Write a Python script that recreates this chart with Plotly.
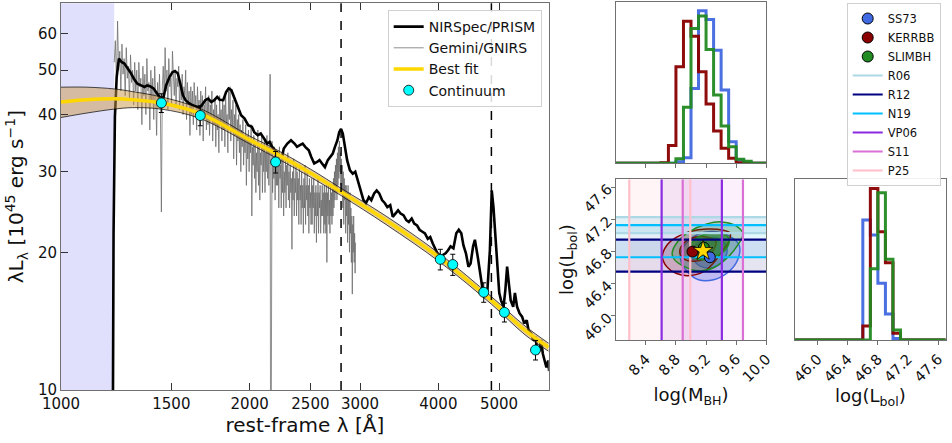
import math
import plotly.graph_objects as go

FONT = "DejaVu Sans"

# ---------------- spectrum panel ----------------
# NIRSpec/PRISM spectrum: rest-frame wavelength [A], lambda*L_lambda [1e45 erg/s]
prism_wave = [1200, 1210, 1213, 1219, 1227, 1237, 1249, 1262, 1273, 1290, 1307, 1324, 1342, 1359,
              1372, 1387, 1405, 1424, 1442, 1458, 1471, 1490, 1506, 1520, 1536, 1550, 1565, 1580,
              1602, 1623, 1644, 1662, 1677, 1699, 1717, 1737, 1756, 1775, 1791, 1815, 1834, 1851,
              1870, 1888, 1905, 1920, 1938, 1963, 1989, 2016, 2034, 2061, 2083, 2110, 2133, 2152,
              2172, 2194, 2217, 2238, 2252, 2267, 2297, 2328, 2358, 2380, 2405, 2430, 2453, 2485,
              2508, 2535, 2562, 2585, 2609, 2637, 2665, 2689, 2714, 2736, 2761, 2779, 2798, 2816,
              2835, 2861, 2891, 2921, 2948, 2975, 3007, 3038, 3066, 3099, 3127, 3160, 3189, 3219,
              3253, 3287, 3317, 3352, 3383, 3419, 3450, 3482, 3519, 3556, 3589, 3627, 3661, 3699,
              3733, 3768, 3808, 3848, 3883, 3919, 3950, 3986, 4023, 4065, 4108, 4146, 4184, 4228,
              4273, 4312, 4352, 4387, 4427, 4468, 4503, 4545, 4575, 4623, 4666, 4709, 4746, 4790,
              4834, 4867, 4898, 4937, 4970, 5003, 5036, 5082, 5116, 5150, 5183, 5218, 5266, 5300,
              5342, 5392, 5441, 5484, 5535, 5572, 5623, 5668, 5720, 5758, 5796, 5834, 5872, 5911,
              5950, 5989, 6010]
prism_lum = [3.0, 9.0, 22.0, 39.5, 48.3, 53.0, 52.1, 51.7, 50.8, 49.5, 47.9, 46.7, 46.3, 45.95,
             46.3, 46.1, 45.6, 44.4, 43.35, 43.7, 46.3, 48.3, 49.5, 49.8, 49.2, 46.7, 44.1, 43.0,
             42.3, 41.9, 41.7, 41.4, 41.9, 43.0, 43.35, 42.6, 43.0, 43.7, 43.1, 43.0, 44.8, 45.6,
             45.2, 43.7, 42.3, 41.56, 39.85, 39.2, 37.9, 37.6, 36.6, 36.05, 36.35, 35.4, 34.56, 34.85,
             34.0, 33.4, 32.86, 32.4, 32.3, 33.7, 34.56, 35.15, 34.56, 34.0, 34.3, 34.56, 34.0, 33.4,
             32.3, 31.26, 31.5, 31.8, 31.26, 30.7, 31.8, 32.3, 32.86, 34.0, 35.15, 36.6, 37.2, 36.35,
             34.56, 31.8, 30.2, 29.7, 30.0, 28.7, 27.3, 26.0, 25.6, 26.4, 26.0, 26.9, 27.3, 26.9,
             26.0, 25.6, 25.1, 25.35, 23.9, 24.3, 24.7, 24.3, 24.1, 23.5, 23.3, 23.7, 23.1, 22.9,
             22.4, 22.2, 22.0, 21.4, 21.6, 20.9, 20.4, 19.9, 19.55, 19.7, 19.9, 20.2, 20.6, 20.4,
             22.0, 22.4, 22.0, 20.7, 19.9, 18.6, 18.9, 20.6, 21.3, 19.55, 17.7, 16.5, 16.3, 16.5,
             20.2, 27.3, 25.1, 21.3, 19.2, 16.3, 15.7, 15.2, 16.5, 18.6, 17.1, 15.7, 15.2, 16.3,
             15.2, 14.7, 14.46, 13.98, 14.2, 13.5, 13.3, 12.86, 13.07, 12.0, 12.2, 12.86, 12.0, 11.6,
             11.2, 11.6, 11.0]

# Gemini/GNIRS spectrum (5 A sampling, 1216-2951 A)
gnirs_wave = [
    1216, 1221, 1226, 1231, 1236, 1241, 1246, 1251, 1256, 1261, 1266, 1271, 1276, 1281, 1286, 1291, 1296, 1301, 1306, 1311,
    1316, 1321, 1326, 1331, 1336, 1341, 1346, 1351, 1356, 1361, 1366, 1371, 1376, 1381, 1386, 1391, 1396, 1401, 1406, 1411,
    1416, 1421, 1426, 1431, 1436, 1441, 1446, 1451, 1456, 1461, 1466, 1471, 1476, 1481, 1486, 1491, 1496, 1501, 1506, 1511,
    1516, 1521, 1526, 1531, 1536, 1541, 1546, 1551, 1556, 1561, 1566, 1571, 1576, 1581, 1586, 1591, 1596, 1601, 1606, 1611,
    1616, 1621, 1626, 1631, 1636, 1641, 1646, 1651, 1656, 1661, 1666, 1671, 1676, 1681, 1686, 1691, 1696, 1701, 1706, 1711,
    1716, 1721, 1726, 1731, 1736, 1741, 1746, 1751, 1756, 1761, 1766, 1771, 1776, 1781, 1786, 1791, 1796, 1801, 1806, 1811,
    1816, 1821, 1826, 1831, 1836, 1841, 1846, 1851, 1856, 1861, 1866, 1871, 1876, 1881, 1886, 1891, 1896, 1901, 1906, 1911,
    1916, 1921, 1926, 1931, 1936, 1941, 1946, 1951, 1956, 1961, 1966, 1971, 1976, 1981, 1986, 1991, 1996, 2001, 2006, 2011,
    2016, 2021, 2026, 2031, 2036, 2041, 2046, 2051, 2056, 2061, 2066, 2071, 2076, 2081, 2086, 2091, 2096, 2101, 2106, 2111,
    2116, 2121, 2126, 2131, 2136, 2141, 2146, 2151, 2156, 2161, 2166, 2171, 2176, 2181, 2186, 2191, 2196, 2201, 2206, 2211,
    2216, 2221, 2226, 2231, 2236, 2241, 2246, 2251, 2256, 2261, 2266, 2271, 2276, 2281, 2286, 2291, 2296, 2301, 2306, 2311,
    2316, 2321, 2326, 2331, 2336, 2341, 2346, 2351, 2356, 2361, 2366, 2371, 2376, 2381, 2386, 2391, 2396, 2401, 2406, 2411,
    2416, 2421, 2426, 2431, 2436, 2441, 2446, 2451, 2456, 2461, 2466, 2471, 2476, 2481, 2486, 2491, 2496, 2501, 2506, 2511,
    2516, 2521, 2526, 2531, 2536, 2541, 2546, 2551, 2556, 2561, 2566, 2571, 2576, 2581, 2586, 2591, 2596, 2601, 2606, 2611,
    2616, 2621, 2626, 2631, 2636, 2641, 2646, 2651, 2656, 2661, 2666, 2671, 2676, 2681, 2686, 2691, 2696, 2701, 2706, 2711,
    2716, 2721, 2726, 2731, 2736, 2741, 2746, 2751, 2756, 2761, 2766, 2771, 2776, 2781, 2786, 2791, 2796, 2801, 2806, 2811,
    2816, 2821, 2826, 2831, 2836, 2841, 2846, 2851, 2856, 2861, 2866, 2871, 2876, 2881, 2886, 2891, 2896, 2901, 2906, 2911,
    2916, 2921, 2926, 2931, 2936, 2941, 2946, 2951,
]
gnirs_lum = [
    52, 58, 47, 64, 50, 55, 45, 57, 49, 53, 44, 56, 48, 51, 43, 54, 47, 50, 42, 52,
    45, 50, 41, 52, 46, 48, 38, 51, 44, 49, 40, 53, 45, 47, 37, 50, 43, 48, 39, 51,
    44, 36, 47, 42, 49, 40, 24.5, 46, 51, 43, 56, 45, 50, 41, 53, 46, 48, 42, 55, 47,
    44, 50, 42, 48, 46, 51, 41, 47, 43, 49, 40, 46, 44, 50, 39, 47, 42, 45, 36, 46,
    40, 45, 38, 47, 42, 44, 37, 46, 41, 43, 36, 45, 39, 44, 35, 42, 40, 46, 37, 43,
    38, 44, 36, 42, 39, 45, 35, 41, 38, 43, 34, 42, 37, 40, 33, 44, 38, 41, 35, 43,
    37, 42, 34, 44, 38, 40, 33, 45, 39, 46, 35, 41, 37, 43, 32, 40, 36, 42, 31, 39,
    35, 40, 33, 38, 30, 37, 34, 39, 31, 36, 33, 38, 28, 36, 32, 37, 30, 35, 33, 38,
    24, 34, 31, 36, 29, 35, 27, 33, 30, 37, 28, 34, 26, 33, 31, 36, 27, 34, 30, 35,
    27, 33, 30, 36, 29, 34, 28, 33, 49, 3, 31, 35, 27, 32, 29, 34, 26, 33, 28, 31,
    28, 33, 25, 34, 29, 31, 25, 32, 27, 33, 24, 30, 27, 32, 25, 31, 28, 33, 26, 30,
    25, 31, 27, 29, 20.3, 30, 26, 32, 24, 29, 27, 31, 24, 30, 26, 29, 23, 31, 26, 28,
    23, 30, 25, 28, 22, 29, 25, 31, 23, 28, 26, 30, 24, 28, 22, 29, 25, 27, 23, 29,
    23, 28, 25, 29, 22, 27, 24, 28, 21, 27, 24, 29, 22, 27, 25, 28, 22, 26, 24, 28,
    24, 27, 22, 28, 23, 27, 22, 28, 19, 27, 24, 28, 23, 26, 22, 28, 24, 27, 23, 28,
    24, 29, 25, 30, 26, 31, 27, 32, 26, 33, 28, 34, 29, 35, 30, 33, 28, 32, 27, 31,
    25, 30, 23, 29, 26, 28, 22, 28, 24, 27, 21, 28, 23, 26, 20, 27, 22, 25, 19, 24,
    16.2, 23, 20, 24, 19, 22, 18, 21,
]

# Continuum model: best fit and its uncertainty envelope
fit_wave = [1000, 1100, 1216, 1300, 1446, 1668, 2000, 2200, 2500, 2798, 3300, 4029, 4861, 5500, 6000]
fit_lum = [42.6, 43.1, 43.3, 43.1, 42.4, 40.2, 35.2, 32.9, 29.8, 27.1, 23.5, 19.4, 15.7, 13.5, 12.4]
fit_hi = [45.9, 45.9, 45.5, 44.9, 43.7, 41.2, 35.9, 33.6, 30.4, 27.6, 24.0, 19.8, 16.0, 13.8, 12.65]
fit_lo = [39.4, 40.3, 41.1, 41.4, 41.1, 39.2, 34.5, 32.2, 29.2, 26.6, 23.0, 19.0, 15.4, 13.2, 12.15]

# Continuum windows
cont_wave = [1446, 1668, 2200, 4029, 4218, 4726, 5099, 5716]
cont_lum = [42.4, 39.8, 31.5, 19.3, 18.8, 16.35, 14.78, 12.23]
cont_err = [2.0, 2.0, 1.7, 1.0, 1.0, 0.8, 0.7, 0.6]

# Mg II and H-beta line centres, and the region blueward of Ly-alpha
line_wave = [2798, 4861]
lya_span = [1000, 1216]

wave_ticks = [1000, 1500, 2000, 2500, 3000, 4000, 5000]
lum_ticks = [10, 20, 30, 40, 50, 60]

# ---------------- corner plot ----------------
models = ["SS73", "KERRBB", "SLIMBH"]
model_colors = ["royalblue", "darkred", "forestgreen"]
model_mbh = [9.25, 9.02, 9.17]
model_lbol = [46.73, 46.80, 46.85]
best_mbh = [9.16]
best_lbol = [46.81]

mbh_edges = [8.0, 8.1, 8.2, 8.3, 8.4, 8.5, 8.6, 8.7, 8.8, 8.9, 9.0,
             9.1, 9.2, 9.3, 9.4, 9.5, 9.6, 9.7, 9.8, 9.9, 10.0]
mbh_hist = {
    "SS73":   [0, 0, 0, 0, 0, 0, 0, 0, 0.01, 0.037, 0.49, 1.0, 0.943, 0.742, 0.48, 0.142, 0.022, 0.004, 0, 0],
    "KERRBB": [0, 0, 0, 0, 0, 0, 0.004, 0.116, 0.633, 0.932, 0.834, 0.60, 0.389, 0.212, 0.098, 0.033, 0.004, 0, 0, 0],
    "SLIMBH": [0, 0, 0, 0, 0, 0, 0, 0, 0.03, 0.367, 0.884, 0.967, 0.747, 0.448, 0.245, 0.109, 0.026, 0.013, 0, 0],
}
lbol_edges = [45.7, 45.8, 45.9, 46.0, 46.1, 46.2, 46.3, 46.4, 46.5, 46.6, 46.7,
              46.8, 46.9, 47.0, 47.1, 47.2, 47.3, 47.4, 47.5, 47.6, 47.7]
lbol_hist = {
    "SS73":   [0, 0, 0, 0, 0, 0, 0, 0, 0, 0.791, 0.692, 0.374, 0.171, 0.01, 0, 0, 0, 0, 0, 0],
    "KERRBB": [0, 0, 0, 0, 0, 0, 0, 0, 0, 0.092, 1.0, 0.714, 0.51, 0.044, 0, 0, 0, 0, 0, 0],
    "SLIMBH": [0, 0, 0, 0, 0, 0, 0, 0, 0, 0, 0.47, 0.971, 0.532, 0.066, 0, 0, 0, 0, 0, 0],
}

# 2D credible contours (outer, inner) in (log M_BH, log L_bol)
contour_outer_m = {
    "SS73":   [8.86, 8.95, 9.10, 9.30, 9.50, 9.64, 9.62, 9.50, 9.30, 9.10, 8.95, 8.87, 8.86],
    "KERRBB": [8.62, 8.68, 8.81, 8.99, 9.21, 9.41, 9.52, 9.50, 9.41, 9.30, 9.17, 8.95, 8.80, 8.68, 8.62],
    "SLIMBH": [8.75, 8.82, 8.98, 9.20, 9.40, 9.60, 9.69, 9.62, 9.48, 9.30, 9.10, 8.90, 8.78, 8.75],
}
contour_outer_l = {
    "SS73":   [46.78, 46.92, 47.02, 47.05, 47.00, 46.88, 46.70, 46.55, 46.45, 46.45, 46.55, 46.67, 46.78],
    "KERRBB": [46.74, 46.88, 46.98, 47.05, 47.08, 47.07, 47.03, 46.92, 46.80, 46.66, 46.55, 46.50, 46.53, 46.61, 46.74],
    "SLIMBH": [46.78, 46.92, 47.05, 47.14, 47.17, 47.12, 47.02, 46.88, 46.72, 46.60, 46.56, 46.62, 46.70, 46.78],
}
contour_inner_m = {
    "SS73":   [9.00, 9.08, 9.22, 9.40, 9.48, 9.42, 9.28, 9.12, 9.03, 9.00],
    "KERRBB": [8.85, 8.92, 9.05, 9.22, 9.33, 9.30, 9.20, 9.05, 8.92, 8.85],
    "SLIMBH": [8.98, 9.05, 9.20, 9.38, 9.50, 9.48, 9.35, 9.18, 9.05, 8.98],
}
contour_inner_l = {
    "SS73":   [46.78, 46.90, 46.97, 46.95, 46.82, 46.68, 46.60, 46.62, 46.70, 46.78],
    "KERRBB": [46.80, 46.92, 46.98, 46.98, 46.93, 46.82, 46.72, 46.68, 46.70, 46.80],
    "SLIMBH": [46.82, 46.95, 47.02, 47.03, 46.97, 46.85, 46.75, 46.70, 46.72, 46.82],
}
fill_outer = {"SS73": "rgba(65,105,225,0.28)", "KERRBB": "rgba(139,0,0,0.16)", "SLIMBH": "rgba(34,139,34,0.22)"}
fill_inner = {"SS73": "rgba(65,105,225,0.45)", "KERRBB": "rgba(139,0,0,0.22)", "SLIMBH": "rgba(34,139,34,0.6)"}

# Literature estimates (ranges)
lbol_refs = ["R06", "R12", "N19"]
lbol_ref_colors = ["lightblue", "navy", "deepskyblue"]
lbol_ref_fill = ["rgba(173,216,230,0.35)", "rgba(0,0,128,0.10)", "rgba(0,191,255,0.10)"]
lbol_lo = [47.03, 46.55, 46.73]
lbol_hi = [47.23, 46.95, 47.13]

mbh_refs = ["VP06", "S11", "P25"]
mbh_ref_colors = ["blueviolet", "orchid", "pink"]
mbh_ref_fill = ["rgba(138,43,226,0.10)", "rgba(218,112,214,0.10)", "rgba(255,192,203,0.18)"]
mbh_lo = [8.61, 8.89, 8.18]
mbh_hi = [9.41, 9.69, 8.99]

corner_ticks_m = [8.4, 8.8, 9.2, 9.6, 10.0]
corner_ticks_l = [46.0, 46.4, 46.8, 47.2, 47.6]

fig = go.Figure()

# ---- spectrum panel traces ----
fig.add_trace(go.Scatter(x=gnirs_wave, y=gnirs_lum, mode="lines", name="Gemini/GNIRS",
                         line=dict(color="rgba(105,105,105,0.75)", width=1),
                         legendrank=2, xaxis="x", yaxis="y"))
fig.add_trace(go.Scatter(x=prism_wave, y=prism_lum, mode="lines", name="NIRSpec/PRISM",
                         line=dict(color="black", width=2.6), legendrank=1, xaxis="x", yaxis="y"))
fig.add_trace(go.Scatter(x=fit_wave, y=fit_hi, mode="lines", showlegend=False,
                         line=dict(color="black", width=0.7, shape="spline"), xaxis="x", yaxis="y"))
fig.add_trace(go.Scatter(x=fit_wave, y=fit_lo, mode="lines", showlegend=False, fill="tonexty",
                         fillcolor="rgba(200,150,70,0.5)",
                         line=dict(color="black", width=0.7, shape="spline"), xaxis="x", yaxis="y"))
fig.add_trace(go.Scatter(x=fit_wave, y=fit_lum, mode="lines", name="Best fit",
                         line=dict(color="gold", width=3.5, shape="spline"), legendrank=3,
                         xaxis="x", yaxis="y"))
fig.add_trace(go.Scatter(x=cont_wave, y=cont_lum, mode="markers", name="Continuum",
                         marker=dict(color="cyan", size=10, line=dict(color="black", width=0.8)),
                         error_y=dict(type="data", array=cont_err, color="black", thickness=1, width=2.5),
                         legendrank=4, xaxis="x", yaxis="y"))

shapes = [
    dict(type="rect", xref="x", yref="y domain", x0=lya_span[0], x1=lya_span[1],
         y0=0, y1=1, fillcolor="rgba(0,0,230,0.12)", line=dict(width=0), layer="below"),
]
for w in line_wave:
    shapes.append(dict(type="line", xref="x", yref="y domain", x0=w, x1=w,
                       y0=0, y1=1, line=dict(color="black", width=1.5, dash="dash")))

# ---- corner plot: literature ranges ----
for lo, hi, fc in zip(mbh_lo, mbh_hi, mbh_ref_fill):
    shapes.append(dict(type="rect", xref="x3", yref="y3 domain", x0=lo, x1=hi, y0=0, y1=1,
                       fillcolor=fc, line=dict(width=0), layer="below"))
for lo, hi, fc in zip(lbol_lo, lbol_hi, lbol_ref_fill):
    shapes.append(dict(type="rect", xref="x3 domain", yref="y3", x0=0, x1=1, y0=lo, y1=hi,
                       fillcolor=fc, line=dict(width=0), layer="below"))

# contours
for name in models:
    col = model_colors[models.index(name)]
    fig.add_trace(go.Scatter(x=contour_outer_m[name], y=contour_outer_l[name], mode="lines",
                             fill="toself", fillcolor=fill_outer[name],
                             line=dict(color=col, width=1.5, shape="spline"),
                             showlegend=False, xaxis="x3", yaxis="y3"))
    fig.add_trace(go.Scatter(x=contour_inner_m[name], y=contour_inner_l[name], mode="lines",
                             fill="toself", fillcolor=fill_inner[name],
                             line=dict(color=col, width=1.5, shape="spline"),
                             showlegend=False, xaxis="x3", yaxis="y3"))

# reference lines (legend entries)
rank = 10
for ref, col, lo, hi in zip(lbol_refs, lbol_ref_colors, lbol_lo, lbol_hi):
    fig.add_trace(go.Scatter(x=[8.0, 10.0, None, 8.0, 10.0], y=[lo, lo, None, hi, hi], mode="lines",
                             name=ref, line=dict(color=col, width=2.2), legend="legend2",
                             legendrank=rank, xaxis="x3", yaxis="y3"))
    rank += 1
for ref, col, lo, hi in zip(mbh_refs, mbh_ref_colors, mbh_lo, mbh_hi):
    fig.add_trace(go.Scatter(x=[lo, lo, None, hi, hi], y=[45.7, 47.7, None, 45.7, 47.7], mode="lines",
                             name=ref, line=dict(color=col, width=2.2), legend="legend2",
                             legendrank=rank, xaxis="x3", yaxis="y3"))
    rank += 1

# model best values
for i, name in enumerate(models):
    fig.add_trace(go.Scatter(x=[model_mbh[i]], y=[model_lbol[i]], mode="markers", name=name,
                             marker=dict(color=model_colors[i], size=11, line=dict(color="black", width=1)),
                             legend="legend2", legendrank=i + 1, xaxis="x3", yaxis="y3"))
fig.add_trace(go.Scatter(x=best_mbh, y=best_lbol, mode="markers", showlegend=False,
                         marker=dict(color="gold", symbol="star", size=15, line=dict(color="black", width=0.8)),
                         xaxis="x3", yaxis="y3"))

# marginal histograms
for i, name in enumerate(models):
    col = model_colors[i]
    fig.add_trace(go.Scatter(x=mbh_edges, y=mbh_hist[name] + [mbh_hist[name][-1]], mode="lines",
                             line=dict(color=col, width=3, shape="hv"), opacity=0.95,
                             showlegend=False, xaxis="x2", yaxis="y2"))
    fig.add_trace(go.Scatter(x=lbol_edges, y=lbol_hist[name] + [lbol_hist[name][-1]], mode="lines",
                             line=dict(color=col, width=3, shape="hv"), opacity=0.95,
                             showlegend=False, xaxis="x4", yaxis="y4"))

axis_line = "#707070"
tick_font = dict(family=FONT, size=15, color="#111")
small_tick_font = dict(family=FONT, size=14.5, color="#111")
title_font = dict(family=FONT, size=20, color="#111")
corner_title_font = dict(family=FONT, size=18, color="#111")

X_MAIN = [61 / 952, 548.7 / 952]
Y_MAIN = [(443 - 390) / 443, (443 - 3.3) / 443]
X_MID = [615.7 / 952, 766.3 / 952]
X_RIGHT = [795 / 952, 945.7 / 952]
Y_TOP = [(443 - 163.3) / 443, (443 - 1.7) / 443]
Y_LOW = [(443 - 340) / 443, (443 - 179.3) / 443]

common = dict(showgrid=False, zeroline=False, showline=True, linecolor=axis_line, linewidth=1,
              automargin=False)

fig.update_layout(
    template="none",
    width=952, height=443,
    margin=dict(l=0, r=0, t=0, b=0),
    paper_bgcolor="white", plot_bgcolor="white",
    font=dict(family=FONT, color="#111"),
    shapes=shapes,
    xaxis=dict(common, domain=X_MAIN, anchor="y", type="log",
               range=[math.log10(1000), math.log10(6000)],
               tickvals=wave_ticks, ticktext=[str(v) for v in wave_ticks],
               ticks="inside", ticklen=7, tickcolor="#333", mirror="ticks", tickfont=tick_font,
               title=dict(text="rest-frame λ [Å]", font=title_font, standoff=4)),
    yaxis=dict(common, domain=Y_MAIN, anchor="x", type="log",
               range=[math.log10(10), math.log10(70)],
               tickvals=lum_ticks, ticktext=[str(v) for v in lum_ticks],
               ticks="inside", ticklen=7, tickcolor="#333", mirror=True, tickfont=tick_font,
               title=dict(text="λL<sub>λ</sub> [10<sup>45</sup> erg s<sup>−1</sup>]", font=title_font,
                          standoff=8)),
    xaxis2=dict(common, domain=X_MID, anchor="y2", range=[8.0, 10.0], tickvals=corner_ticks_m,
                showticklabels=False, ticks="outside", ticklen=4, tickcolor=axis_line, mirror=True),
    yaxis2=dict(common, domain=Y_TOP, anchor="x2", range=[0, 1.06], showticklabels=False,
                ticks="", mirror=True),
    xaxis3=dict(common, domain=X_MID, anchor="y3", range=[8.0, 10.0], tickvals=corner_ticks_m,
                tickformat=".1f", tickangle=-45, ticks="outside", ticklen=4, tickcolor=axis_line,
                mirror=True, tickfont=small_tick_font,
                title=dict(text="log(M<sub>BH</sub>)", font=corner_title_font, standoff=4)),
    yaxis3=dict(common, domain=Y_LOW, anchor="x3", range=[45.7, 47.7], tickvals=corner_ticks_l,
                tickformat=".1f", tickangle=-45, ticks="outside", ticklen=4, tickcolor=axis_line,
                mirror=True, tickfont=small_tick_font,
                title=dict(text="log(L<sub>bol</sub>)", font=corner_title_font, standoff=2)),
    xaxis4=dict(common, domain=X_RIGHT, anchor="y4", range=[45.7, 47.7], tickvals=corner_ticks_l,
                tickformat=".1f", tickangle=-45, ticks="outside", ticklen=4, tickcolor=axis_line,
                mirror=True, tickfont=small_tick_font,
                title=dict(text="log(L<sub>bol</sub>)", font=corner_title_font, standoff=4)),
    yaxis4=dict(common, domain=Y_LOW, anchor="x4", range=[0, 1.06], showticklabels=False,
                ticks="", mirror=True),
    legend=dict(x=541.7 / 952, y=(443 - 10) / 443, xanchor="right", yanchor="top",
                traceorder="normal",
                bgcolor="rgba(255,255,255,0.85)", bordercolor="#d0d0d0", borderwidth=1,
                font=dict(family=FONT, size=14, color="#111"), tracegroupgap=0),
    legend2=dict(x=940.7 / 952, y=(443 - 3) / 443, xanchor="right", yanchor="top",
                 traceorder="normal",
                 bgcolor="rgba(255,255,255,0.9)", bordercolor="#d0d0d0", borderwidth=1,
                 font=dict(family=FONT, size=11.5, color="#111"), tracegroupgap=0),
)

fig.write_html("out.html")
